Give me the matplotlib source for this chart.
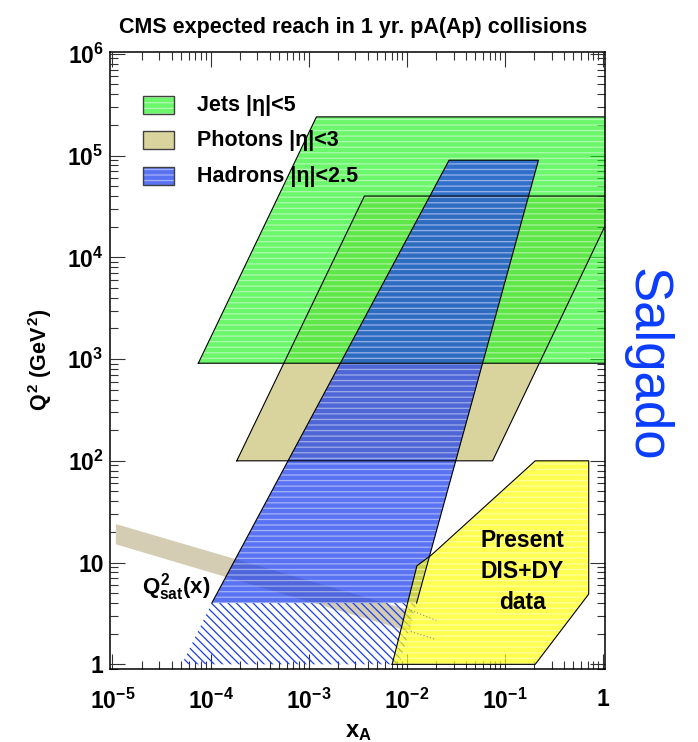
import matplotlib
matplotlib.use('Agg')
import matplotlib.pyplot as plt
from matplotlib.patches import Rectangle
from matplotlib.ticker import LogLocator, NullFormatter
import numpy as np

plt.rcParams['font.family'] = ['Liberation Sans', 'DejaVu Sans']
plt.rcParams['font.weight'] = 'bold'
plt.rcParams['mathtext.fontset'] = 'custom'
plt.rcParams['mathtext.rm'] = 'Liberation Sans:bold'
plt.rcParams['mathtext.bf'] = 'Liberation Sans:bold'
plt.rcParams['mathtext.it'] = 'Liberation Sans:bold'
plt.rcParams['hatch.linewidth'] = 0.9

# kinematic reach corners (x_A, Q^2 in GeV^2)
jets_x = [7.5e-5, 1.2e-3, 10.0, 10.0]
jets_q2 = [910, 2.4e5, 2.4e5, 910]
photons_x = [1.85e-4, 3.7e-3, 1.47, 0.075]
photons_q2 = [100, 4.0e4, 4.0e4, 100]
hadrons_x = [1.03e-4, 0.027, 0.22, 0.0126]
hadrons_q2 = [4.0, 9.0e4, 9.0e4, 4.0]
hadrons_low_x = [5.1e-5, 1.03e-4, 0.0126, 8.5e-3]
hadrons_low_q2 = [1.0, 4.0, 4.0, 1.0]

# present DIS + Drell-Yan coverage
dis_x = [7.1e-3, 0.0127, 0.0179, 0.204, 0.716, 0.716, 0.204]
dis_q2 = [1.0, 9.3, 11.9, 100, 100, 4.9, 1.0]

# saturation scale band
qsat_x = [1.07e-5, 1.1e-2]
qsat_hi = [24.2, 3.4]
qsat_lo = [15.3, 2.1]
qsat_tail_x = [1.1e-2, 2.0e-2]
qsat_tail_hi = [3.4, 2.7]
qsat_tail_lo = [2.1, 1.75]

x_ticks = [1e-5, 1e-4, 1e-3, 1e-2, 1e-1, 1]
x_labels = [r'$10^{-5}$', r'$10^{-4}$', r'$10^{-3}$', r'$10^{-2}$', r'$10^{-1}$', '1']
y_ticks = [1, 10, 1e2, 1e3, 1e4, 1e5, 1e6]
y_labels = ['1', '10', r'$10^{2}$', r'$10^{3}$', r'$10^{4}$', r'$10^{5}$', r'$10^{6}$']

legend_names = ['Jets |η|<5', 'Photons |η|<3', 'Hadrons |η|<2.5']

green = (0.1, 0.95, 0.1)
tan = (0.85, 0.83, 0.62)
blue = (0.1, 0.24, 0.93)
yellow = (1.0, 1.0, 0.0)
band = (0.83, 0.80, 0.70)

fig = plt.figure(figsize=(6.98, 7.42), dpi=100)
ax = fig.add_axes([0.1583, 0.0984, 0.7085, 0.832])
ax.set_xscale('log')
ax.set_yscale('log')
ax.set_xlim(0.955e-5, 1.05)
ax.set_ylim(0.9, 1.05e6)


def shade(xs, ys, color, alpha, z, lines=True):
    ax.fill(xs, ys, color=color, alpha=alpha, lw=0, zorder=z)
    if lines:
        ax.fill(xs, ys, facecolor='none', edgecolor=(1, 1, 1, 0.45),
                hatch='---', lw=0, zorder=z + 0.1)


shade(photons_x, photons_q2, tan, 1.0, 1, lines=False)
shade(jets_x, jets_q2, green, 0.64, 2)
ax.fill_between(qsat_x, qsat_lo, qsat_hi, color=band, lw=0, zorder=3)
shade(hadrons_x, hadrons_q2, blue, 0.72, 4)
ax.fill(hadrons_low_x, hadrons_low_q2, facecolor='none', edgecolor=blue,
        hatch='\\\\\\\\', lw=0, zorder=4)
shade(dis_x, dis_q2, yellow, 0.68, 5)

# outlines
for xs, ys in [(jets_x, jets_q2), (photons_x, photons_q2), (dis_x, dis_q2)]:
    ax.plot(xs + xs[:1], ys + ys[:1], color='k', lw=0.8, zorder=6)
ax.plot(hadrons_x, hadrons_q2, color='k', lw=0.8, zorder=6)
ax.plot(qsat_tail_x, qsat_tail_hi, color='0.55', lw=0.8, ls=(0, (1, 2)), zorder=6)
ax.plot(qsat_tail_x, qsat_tail_lo, color='0.55', lw=0.8, ls=(0, (1, 2)), zorder=6)

ax.text(4.45e-5, 5.8, r'$Q^{2}_{sat}(x)$', fontsize=16, ha='center', va='center', zorder=7)
ax.text(0.15, 8.1, 'Present\nDIS+DY\ndata', fontsize=16.5, ha='center', va='center',
        linespacing=1.45, zorder=7)

# legend
box_y = [0.899, 0.842, 0.784]
for name, c, a, by, ln in zip(legend_names, [green, tan, blue], [0.64, 1.0, 0.72], box_y,
                              [True, False, True]):
    ax.add_patch(Rectangle((0.0657, by), 0.0627, 0.029, transform=ax.transAxes,
                           facecolor=c, alpha=a, lw=0, zorder=8))
    if ln:
        ax.add_patch(Rectangle((0.0657, by), 0.0627, 0.029, transform=ax.transAxes,
                               facecolor='none', edgecolor=(1, 1, 1, 0.45), hatch='---',
                               lw=0, zorder=8.1))
    ax.add_patch(Rectangle((0.0657, by), 0.0627, 0.029, transform=ax.transAxes,
                           facecolor='none', edgecolor='0.25', lw=1.0, zorder=8.2))
    ax.text(0.175, by + 0.0145, name, transform=ax.transAxes, fontsize=15.5,
            ha='left', va='center', zorder=8)

ax.set_xticks(x_ticks, x_labels)
ax.set_yticks(y_ticks, y_labels)
ax.xaxis.set_minor_locator(LogLocator(base=10, subs=np.arange(2, 10), numticks=20))
ax.yaxis.set_minor_locator(LogLocator(base=10, subs=np.arange(2, 10), numticks=20))
ax.xaxis.set_minor_formatter(NullFormatter())
ax.yaxis.set_minor_formatter(NullFormatter())
ax.tick_params(which='both', direction='in', top=True, right=True, width=0.8,
               color='0.2', labelsize=16.5)
ax.tick_params(which='major', length=11)
ax.tick_params(which='minor', length=5.5)
ax.tick_params(axis='x', pad=14)
ax.tick_params(axis='y', pad=5)
for s in ax.spines.values():
    s.set_linewidth(1.1)
    s.set_zorder(9)

fig.text(0.506, 0.9636, 'CMS expected reach in 1 yr. pA(Ap) collisions', fontsize=15.5,
         ha='center', va='center')
fig.text(0.057, 0.515, r'$Q^{2}\ (GeV^{2})$', fontsize=15.5, rotation=90,
         ha='center', va='center')
fig.text(0.513, 0.0145, r'$x_{A}$', fontsize=17, ha='center', va='center')
fig.text(0.927, 0.508, 'Salgado', rotation=-90, color='#0a3cff', fontsize=38,
         fontweight='normal', ha='center', va='center')

fig.savefig('out.png', dpi=100)
